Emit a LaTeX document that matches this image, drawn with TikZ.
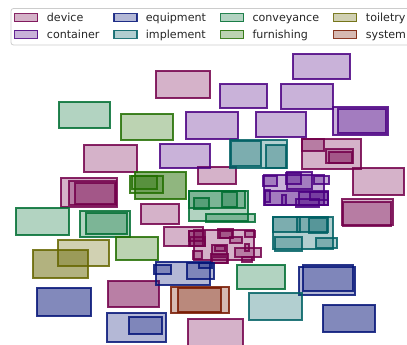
\documentclass[tikz,border=0pt]{standalone}
\usepackage{fontspec}
\setmainfont{DejaVu Sans}
\definecolor{cdev}{RGB}{115,0,75}
\definecolor{ccon}{RGB}{75,0,130}
\definecolor{ceqp}{RGB}{5,20,120}
\definecolor{cimp}{RGB}{0,96,100}
\definecolor{ccvy}{RGB}{0,110,50}
\definecolor{cfur}{RGB}{34,110,0}
\definecolor{ctoi}{RGB}{102,102,0}
\definecolor{csys}{RGB}{120,25,0}
\tikzset{
  box/.style={fill=#1,fill opacity=0.3,draw=#1,draw opacity=0.85,line width=1.2pt},
  dev/.style={box=cdev}, con/.style={box=ccon}, eqp/.style={box=ceqp},
  imp/.style={box=cimp}, cvy/.style={box=ccvy}, fur/.style={box=cfur},
  toi/.style={box=ctoi}, sys/.style={box=csys},
  dk/.style={fill opacity=0.5},
  lab/.style={anchor=base west,inner sep=0pt,font=\fontsize{11.1}{13}\selectfont,text=black!85},
  legframe/.style={draw=black!20,fill=white,line width=0.8pt,rounded corners=2.5pt}
}
\begin{document}
\begin{tikzpicture}[x=1pt,y=-1pt]
\useasboundingbox (0,0) rectangle (407,345);
\clip (0,0) rectangle (407,345);
% device
\draw[dev] (156,71) rectangle (210,98);
\draw[dev] (84,145) rectangle (137,172);
\draw[dev] (61,178) rectangle (117,207);
\draw[dev] (69,181) rectangle (116,205);
\draw[dev] (75,183) rectangle (115,204);
\draw[dev] (198,167) rectangle (236,184);
\draw[dev] (141,204) rectangle (179,224);
\draw[dev] (164,227) rectangle (203,246);
\draw[dev] (194,230) rectangle (254,260);
\draw[dev] (189,231) rectangle (205,246);
\draw[dev] (190,237) rectangle (205,246);
\draw[dev] (189,231) rectangle (203,241);
\draw[dev] (218,229) rectangle (233,238);
\draw[dev] (220,231) rectangle (232,238);
\draw[dev] (230,237) rectangle (242,243);
\draw[dev] (245,231) rectangle (255,237);
\draw[dev] (212,245) rectangle (227,255);
\draw[dev] (215,246) rectangle (225,251);
\draw[dev] (211,254) rectangle (228,263);
\draw[dev] (212,257) rectangle (227,263);
\draw[dev] (235,248) rectangle (261,257);
\draw[dev] (245,244) rectangle (249,251);
\draw[dev] (242,257) rectangle (252,262);
\draw[dev] (193,251) rectangle (202,259);
\draw[dev] (302,139) rectangle (361,169);
\draw[dev] (302,139) rectangle (324,151);
\draw[dev] (326,149) rectangle (353,163);
\draw[dev] (329,152) rectangle (352,163);
\draw[dev] (353,168) rectangle (404,195);
\draw[dev] (342,199) rectangle (393,225);
\draw[dev] (343,202) rectangle (391,226);
\draw[dev,dk] (108,281) rectangle (159,307);
\draw[dev] (188,319) rectangle (243,348);
% container
\draw[con] (293,54) rectangle (350,79);
\draw[con] (220,84) rectangle (267,108);
\draw[con] (281,84) rectangle (333,109);
\draw[con] (186,112) rectangle (238,139);
\draw[con] (256,112) rectangle (306,137);
\draw[con] (333,107) rectangle (388,135);
\draw[con] (338,109) rectangle (386,133);
\draw[con] (160,144) rectangle (210,168);
\draw[con] (264,175) rectangle (324,205);
\draw[con] (287,172) rectangle (312,189);
\draw[con] (286,173) rectangle (301,184);
\draw[con] (263,176) rectangle (277,186);
\draw[con] (314,176) rectangle (329,184);
\draw[con] (265,191) rectangle (328,205);
\draw[con] (265,190) rectangle (270,202);
\draw[con] (282,195) rectangle (286,205);
\draw[con] (299,192) rectangle (328,205);
\draw[con] (296,199) rectangle (319,207);
\draw[con] (310,192) rectangle (328,200);
% equipment
\draw[eqp] (156,262) rectangle (210,285);
\draw[eqp] (154,265) rectangle (171,274);
\draw[eqp] (187,263) rectangle (214,279);
\draw[eqp] (199,263) rectangle (212,268);
\draw[eqp] (299,267) rectangle (355,295);
\draw[eqp] (303,265) rectangle (353,291);
\draw[eqp,dk] (323,305) rectangle (375,332);
\draw[eqp,dk] (37,288) rectangle (91,316);
\draw[eqp] (107,313) rectangle (166,342);
\draw[eqp] (129,317) rectangle (162,334);
% implement
\draw[imp] (230,140) rectangle (287,168);
\draw[imp] (231,141) rectangle (261,166);
\draw[imp] (266,145) rectangle (286,168);
\draw[imp] (273,217) rectangle (333,249);
\draw[imp] (273,217) rectangle (300,232);
\draw[imp] (297,217) rectangle (328,232);
\draw[imp] (309,218) rectangle (327,233);
\draw[imp] (275,237) rectangle (302,251);
\draw[imp] (316,238) rectangle (337,248);
\draw[imp] (249,293) rectangle (302,320);
% conveyance
\draw[cvy] (59,102) rectangle (110,128);
\draw[cvy] (16,208) rectangle (69,235);
\draw[cvy] (80,211) rectangle (130,237);
\draw[cvy] (86,213) rectangle (127,234);
\draw[cvy] (189,191) rectangle (248,221);
\draw[cvy] (189,191) rectangle (245,208);
\draw[cvy] (194,198) rectangle (209,209);
\draw[cvy] (222,192) rectangle (237,207);
\draw[cvy] (206,214) rectangle (255,222);
\draw[cvy] (237,265) rectangle (285,289);
% furnishing
\draw[fur] (121,114) rectangle (173,140);
\draw[fur,dk] (135,172) rectangle (186,199);
\draw[fur] (130,176) rectangle (163,193);
\draw[fur] (132,176) rectangle (157,189);
\draw[fur] (116,237) rectangle (158,260);
% toiletry
\draw[toi] (58,240) rectangle (109,266);
\draw[toi,dk] (33,250) rectangle (88,278);
% system
\draw[sys] (171,287) rectangle (229,313);
\draw[sys] (178,288) rectangle (221,312);
% legend
\draw[legframe] (11,8.5) rectangle (412,45);
\draw[dev] (14.5,13.8) rectangle (37.5,21.8); \node[lab] (l1) at (46.7,21.8) {device};
\draw[con] (14.5,30.3) rectangle (37.5,38.3); \node[lab] (l2) at (46.7,38.3) {container};
\draw[eqp] (114,13.8) rectangle (137,21.8); \node[lab] (l3) at (145.7,21.8) {equipment};
\draw[imp] (114,30.3) rectangle (137,38.3); \node[lab] (l4) at (145.7,38.3) {implement};
\draw[cvy] (220.5,13.8) rectangle (243.5,21.8); \node[lab] (l5) at (252.3,21.8) {conveyance};
\draw[fur] (220.5,30.3) rectangle (243.5,38.3); \node[lab] (l6) at (252.3,38.3) {furnishing};
\draw[toi] (333.5,13.8) rectangle (356.5,21.8); \node[lab] (l7) at (365.7,21.8) {toiletry};
\draw[sys] (333.5,30.3) rectangle (356.5,38.3); \node[lab] (l8) at (365.7,38.3) {system};
\end{tikzpicture}
\end{document}
